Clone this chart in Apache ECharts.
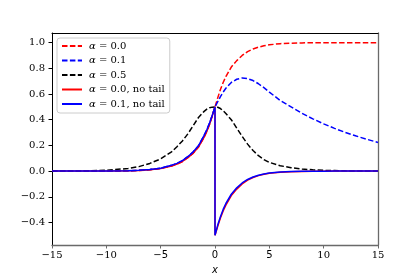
<!DOCTYPE html>
<html>
<head>
<meta charset="utf-8">
<script src="https://cdn.jsdelivr.net/npm/echarts@6/dist/echarts.min.js"></script>
<style>html,body{margin:0;padding:0;background:#fff;}#c{width:420px;height:280px;}</style>
</head>
<body>
<div id="c"></div>
<script>
// x sample points (left branch up to 0, right branch from 0)
const xNeg = [-15,-12,-10,-8,-7,-6,-5,-4,-3.5,-3,-2.5,-2,-1.5,-1,-0.75,-0.5,-0.25,0];
const xPos = [0,0.25,0.5,0.75,1,1.5,2,2.5,3,3.5,4,4.5,5,6,7,8,9,10,11,12,13,14,15];

// alpha = 0.0
const a00Neg      = [0,0.0003,0.0006,0.0025,0.005,0.01,0.02,0.04,0.055,0.075,0.105,0.14,0.19,0.265,0.31,0.365,0.43,0.5];
const a00TailPos  = [0.5,0.57,0.635,0.69,0.735,0.81,0.86,0.9,0.93,0.95,0.965,0.975,0.983,0.992,0.996,0.998,0.999,1,1,1,1,1,1];
const a00NoTailPos= [-0.5,-0.43,-0.365,-0.31,-0.265,-0.19,-0.14,-0.1,-0.07,-0.05,-0.035,-0.025,-0.017,-0.008,-0.004,-0.002,-0.001,-0.0005,0,0,0,0,0];
// alpha = 0.1
const a01Neg      = [0,0.0004,0.0008,0.003,0.006,0.012,0.023,0.045,0.06,0.082,0.112,0.15,0.2,0.278,0.322,0.375,0.435,0.5];
const a01TailPos  = [0.5,0.54,0.58,0.615,0.645,0.69,0.715,0.725,0.72,0.705,0.68,0.65,0.615,0.55,0.5,0.45,0.407,0.368,0.333,0.301,0.273,0.247,0.223];
const a01NoTailPos= [-0.5,-0.42,-0.355,-0.298,-0.252,-0.18,-0.13,-0.092,-0.065,-0.046,-0.032,-0.022,-0.015,-0.007,-0.0035,-0.0018,-0.0009,-0.0004,0,0,0,0,0];
// alpha = 0.5
const a05Neg      = [0.0005,0.002,0.007,0.02,0.035,0.06,0.095,0.15,0.19,0.235,0.29,0.355,0.42,0.465,0.482,0.493,0.498,0.5];
const a05Pos      = [0.5,0.497,0.487,0.47,0.448,0.4,0.335,0.27,0.21,0.16,0.12,0.09,0.068,0.042,0.027,0.016,0.01,0.006,0.004,0.002,0.001,0.0005,0.0003];

const yTicks = [-0.4,-0.2,0.0,0.2,0.4,0.6,0.8,1.0];
const legendLabels = {
  a00: '{i|α} = 0.0', a01: '{i|α} = 0.1', a05: '{i|α} = 0.5',
  a00nt: '{i|α} = 0.0, no tail', a01nt: '{i|α} = 0.1, no tail'
};

function pairs(xs, ys){ return xs.map((x,i)=>[x, ys[i]]); }
function tail(neg,pos){ return pairs(xNeg,neg).concat(pairs(xPos,pos).slice(1)); }
function noTail(neg,pos){ return pairs(xNeg,neg).concat(pairs(xPos,pos)); }
const minus = s => s.replace('-', '\u2212');

const SERIF = 'DejaVu Serif';
const SANS = 'DejaVu Sans';
const DASH = [5.5, 2.4];
function line(name, data, color, dashed){
  return {name, type:'line', data, symbol:'none', showSymbol:false, animation:false,
    lineStyle:{color, width:1.5, type: dashed ? DASH : 'solid'}, itemStyle:{color}};
}

const chart = echarts.init(document.getElementById('c'), null, {renderer:'canvas'});
chart.setOption({
  animation:false,
  backgroundColor:'#fff',
  grid:{left:52, right:42, top:33, bottom:35, containLabel:false},
  xAxis:[{
    type:'value', min:-15, max:15, interval:5, position:'bottom',
    axisLine:{onZero:false, lineStyle:{color:'#6a6a6a', width:1.3}},
    axisTick:{show:true, inside:false, length:3.5, lineStyle:{color:'#6a6a6a', width:1}},
    splitLine:{show:false},
    axisLabel:{margin:5, color:'#000', fontSize:10,
      formatter: v => Math.abs(v) >= 10 ? '{s|' + minus(String(v)) + '}' : '{n|' + minus(String(v)) + '}',
      rich:{s:{fontFamily:SERIF, fontSize:10, color:'#000'}, n:{fontFamily:SANS, fontSize:10, color:'#000'}}},
    name:'x', nameLocation:'middle', nameGap:20,
    nameTextStyle:{fontFamily:SANS, fontStyle:'italic', fontSize:10, color:'#000'}
  },{
    type:'value', min:-15, max:15, position:'top',
    axisLine:{onZero:false, lineStyle:{color:'#000', width:1}},
    axisTick:{show:false}, axisLabel:{show:false}, splitLine:{show:false}
  }],
  yAxis:[{
    type:'value', min:-0.575, max:1.075, position:'left',
    axisLine:{onZero:false, lineStyle:{color:'#000', width:1}},
    axisTick:{show:true, inside:false, length:3.5, customValues:yTicks, lineStyle:{color:'#000', width:1}},
    splitLine:{show:false},
    axisLabel:{margin:7, color:'#000', fontFamily:SERIF, fontSize:10, customValues:yTicks,
      formatter: v => minus(v.toFixed(1)).replace('\u22120.0','0.0')}
  },{
    type:'value', min:-0.575, max:1.075, position:'right',
    axisLine:{onZero:false, lineStyle:{color:'#6a6a6a', width:1.3}},
    axisTick:{show:false}, axisLabel:{show:false}, splitLine:{show:false}
  }],
  legend:{
    orient:'vertical', left:57, top:38,
    padding:[2,5,3,4], itemGap:2.5, itemWidth:20, itemHeight:10,
    backgroundColor:'rgba(255,255,255,0.8)', borderColor:'#cccccc', borderWidth:1, borderRadius:3,
    itemStyle:{color:'rgba(0,0,0,0)', borderWidth:0, opacity:0},
    data:['a00','a01','a05','a00nt','a01nt'],
    formatter: n => legendLabels[n],
    textStyle:{fontFamily:SERIF, fontSize:10, color:'#000', lineHeight:12, padding:[0,0,0,2],
      rich:{i:{fontFamily:SERIF, fontStyle:'italic', fontSize:10, color:'#000'}}}
  },
  series:[
    line('a00', tail(a00Neg, a00TailPos), '#ff0000', true),
    line('a01', tail(a01Neg, a01TailPos), '#0000ff', true),
    line('a05', tail(a05Neg, a05Pos), '#000000', true),
    line('a00nt', noTail(a00Neg, a00NoTailPos), '#ff0000', false),
    line('a01nt', noTail(a01Neg, a01NoTailPos), '#0000ff', false)
  ]
});
</script>
</body>
</html>
